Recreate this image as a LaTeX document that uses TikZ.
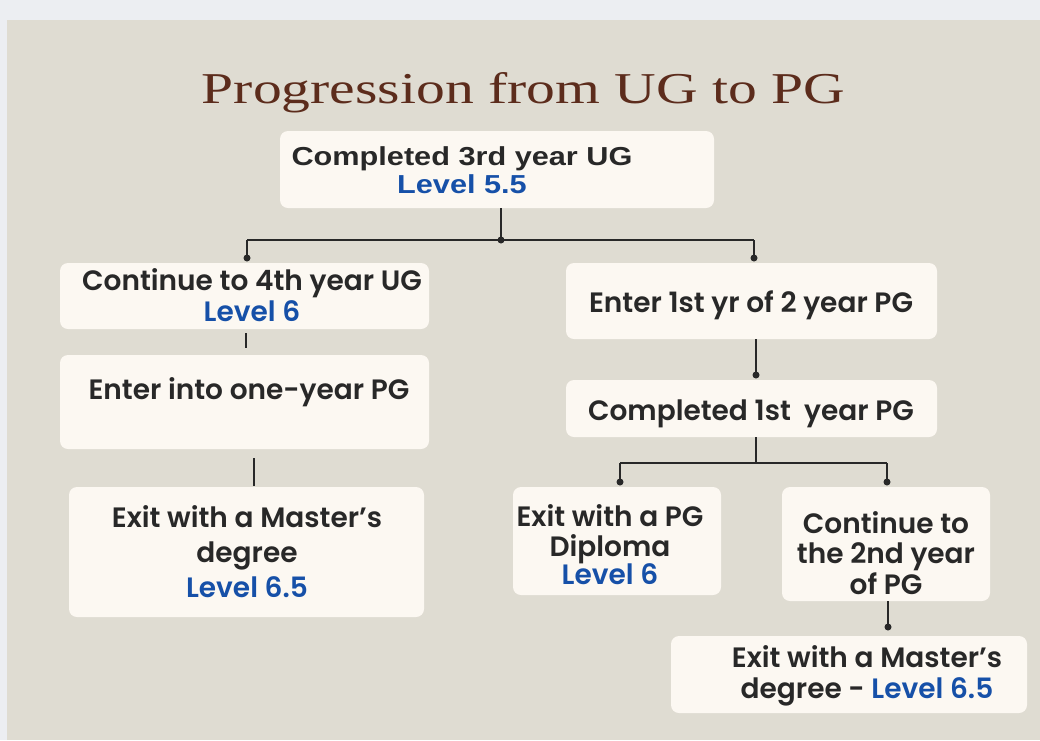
\documentclass[tikz,border=0pt]{standalone}
\usepackage{fontspec}
\setmainfont{Liberation Serif}
\newfontfamily\bodyfont{Poppins}[BoldFont={Poppins SemiBold}]
\newfontfamily\topfont[FakeStretch=1.18]{Liberation Sans}
\usetikzlibrary{calc}
\definecolor{bgbeige}{RGB}{223,220,210}
\definecolor{bgstrip}{RGB}{236,238,242}
\definecolor{boxfill}{RGB}{252,248,242}
\definecolor{ink}{RGB}{40,40,40}
\definecolor{lvlblue}{RGB}{22,80,168}
\definecolor{titlebrown}{RGB}{92,44,28}
\tikzset{
  box/.style={draw=none, fill=boxfill, rounded corners=8pt, inner sep=0pt},
  txt/.style={inner sep=0pt, align=center, text=ink, anchor=base,
    font=\bodyfont\bfseries\fontsize{28}{30.5}\selectfont},
  toptxt/.style={inner sep=0pt, align=center, text=ink, anchor=base,
    font=\topfont\bfseries\fontsize{26}{28}\selectfont},
  conn/.style={draw=ink, line width=2pt},
  dotmark/.style={fill=ink}
}
\newcommand{\lvl}[1]{\textcolor{lvlblue}{#1}}
\begin{document}
\begin{tikzpicture}[x=1pt,y=-1pt]
% background
\fill[bgstrip] (0,0) rectangle (1040,740);
\fill[bgbeige] (7,20) rectangle (1040,740);
\useasboundingbox (0,0) rectangle (1040,740);

% title
\node[inner sep=0pt, anchor=base, text=titlebrown] (title) at (523.5,103)
  {\resizebox{643pt}{31pt}{Progression from UG to PG}};

% boxes
\node[box, minimum width=434pt, minimum height=77pt] (A) at (497,169.5) {};
\node[box, minimum width=369pt, minimum height=66pt] (B) at (244.5,296) {};
\node[box, minimum width=369pt, minimum height=94pt] (C) at (244.5,402) {};
\node[box, minimum width=355pt, minimum height=130pt] (D) at (246.5,552) {};
\node[box, minimum width=371pt, minimum height=76pt] (E) at (751.5,301) {};
\node[box, minimum width=371pt, minimum height=57pt] (F) at (751.5,408.5) {};
\node[box, minimum width=208pt, minimum height=108pt] (G) at (617,541) {};
\node[box, minimum width=208pt, minimum height=114pt] (H) at (886,544) {};
\node[box, minimum width=356pt, minimum height=77pt] (I) at (849,674.5) {};

% texts (base anchor = baseline of the last line)
\node[toptxt] (At) at (462,193) {Completed 3rd year UG\\\lvl{Level 5.5}};
\node[txt] (Bt) at (252,321) {Continue to 4th year UG\\\lvl{Level 6}};
\node[txt] (Ct) at (249,399) {Enter into one-year PG};
\node[txt, font=\bodyfont\bfseries\fontsize{28}{35}\selectfont] (Dt) at (247,597) {Exit with a Master’s\\degree\\\lvl{Level 6.5}};
\node[txt] (Et) at (751,312) {Enter 1st yr of 2 year PG};
\node[txt] (Ft) at (751,420) {Completed 1st\ \ year PG};
\node[txt] (Gt) at (610,584) {Exit with a PG\\Diploma\\[-3pt]\lvl{Level 6}};
\node[txt] (Ht) at (886,594) {Continue to\\the 2nd year\\of PG};
\node[txt] (It) at (867,698) {Exit with a Master’s\\degree - \lvl{Level 6.5}};

% connectors
\coordinate (jA) at (501,240);
\coordinate (jL) at (247,240);
\coordinate (jR) at (754,240);
\coordinate (dB) at (247,258);
\coordinate (dE) at (754,258);
\draw[conn] (A.south -| jA) -- (jA);
\draw[conn] (jL) -- (jR);
\draw[conn] (jL) -- (dB);
\draw[conn] (jR) -- (dE);
\fill[dotmark] (jA) circle (3.5pt);
\fill[dotmark] (dB) circle (3.5pt);
\fill[dotmark] (dE) circle (3.5pt);

\coordinate (bc1) at (246,333);
\coordinate (bc2) at (246,348);
\draw[conn] (bc1) -- (bc2);
\coordinate (cd1) at (254,458);
\coordinate (cd2) at (254,486);
\draw[conn] (cd1) -- (cd2);

\coordinate (dF) at (756,375);
\draw[conn] (E.south -| dF) -- (dF);
\fill[dotmark] (dF) circle (3.5pt);

\coordinate (jF) at (756,463);
\coordinate (jGL) at (620,463);
\coordinate (jHR) at (887,463);
\coordinate (dG) at (620,482);
\coordinate (dH) at (887,482);
\draw[conn] (F.south -| jF) -- (jF);
\draw[conn] (jGL) -- (jHR);
\draw[conn] (jGL) -- (dG);
\draw[conn] (jHR) -- (dH);
\fill[dotmark] (dG) circle (3.5pt);
\fill[dotmark] (dH) circle (3.5pt);

\coordinate (dI) at (888,627);
\draw[conn] (H.south -| dI) -- (dI);
\fill[dotmark] (dI) circle (3.5pt);
\end{tikzpicture}
\end{document}
